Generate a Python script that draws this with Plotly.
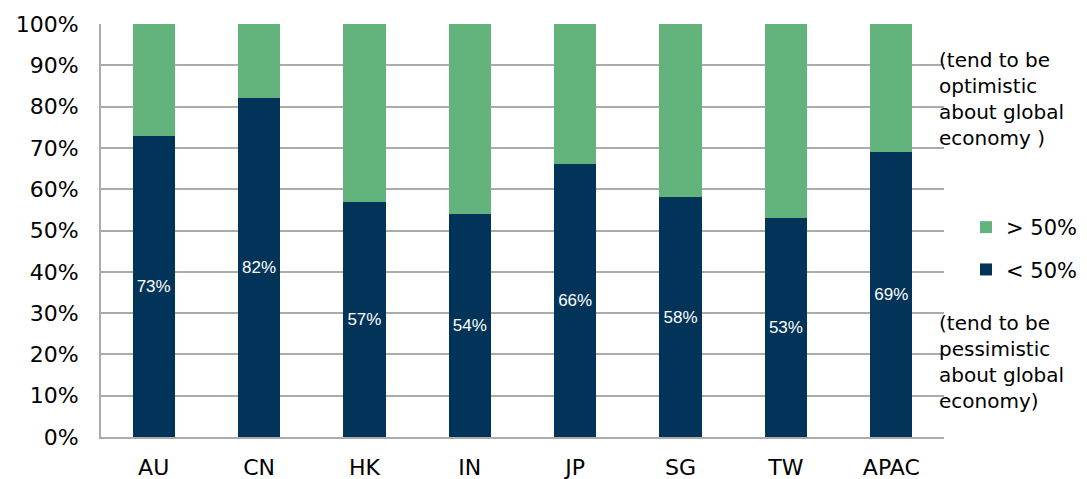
import plotly.graph_objects as go

regions = ["AU", "CN", "HK", "IN", "JP", "SG", "TW", "APAC"]
below_50 = [73, 82, 57, 54, 66, 58, 53, 69]
above_50 = [100 - v for v in below_50]

navy = "#02345A"
green = "#62B47C"
grid = "#ABABAB"
font_family = "DejaVu Sans, Verdana, sans-serif"

fig = go.Figure()
fig.add_trace(go.Bar(
    x=regions, y=below_50, name="< 50%", marker_color=navy,
    marker_line_width=0, legendgroup="lo", legendrank=2,
    text=[f"{v}%" for v in below_50], textposition="inside",
    insidetextanchor="middle", textangle=0,
    textfont=dict(color="white", size=17, family="Liberation Sans, Arial, sans-serif"),
))
fig.add_trace(go.Bar(
    x=regions, y=above_50, name="> 50%", marker_color=green,
    marker_line_width=0, legendgroup="hi", legendrank=1,
))

fig.update_layout(
    barmode="stack",
    bargap=0.6,
    width=1087, height=479,
    margin=dict(l=101, r=143, t=24, b=42, autoexpand=False),
    plot_bgcolor="white", paper_bgcolor="white",
    font=dict(family=font_family, size=22, color="black"),
    showlegend=True,
    legend=dict(
        traceorder="grouped", tracegroupgap=12,
        x=(966 - 101) / 843, xanchor="left",
        y=(437 - 248.5) / 413, yanchor="middle",
        font=dict(size=21), itemwidth=30, bgcolor="rgba(0,0,0,0)",
    ),
    uniformtext=dict(mode=False),
)
fig.update_yaxes(
    range=[0, 100], dtick=10, ticksuffix="%",
    showgrid=True, gridcolor=grid, gridwidth=2,
    showline=True, linecolor=grid, linewidth=2,
    ticks="", ticklabelstandoff=16,
    tickfont=dict(size=22, color="black"),
    zeroline=False,
)
fig.update_xaxes(
    showline=True, linecolor=grid, linewidth=2,
    ticks="", ticklabelstandoff=10,
    tickfont=dict(size=22, color="black"),
)

note_x = (937 - 101) / 843
fig.add_annotation(
    xref="paper", yref="paper", x=note_x, y=(437 - 46) / 413,
    xanchor="left", yanchor="top", align="left", showarrow=False,
    text="(tend to be<br>optimistic<br>about global<br>economy )",
    font=dict(size=20, color="black"),
)
fig.add_annotation(
    xref="paper", yref="paper", x=note_x, y=(437 - 309) / 413,
    xanchor="left", yanchor="top", align="left", showarrow=False,
    text="(tend to be<br>pessimistic<br>about global<br>economy)",
    font=dict(size=20, color="black"),
)

fig.write_html("out.html")
